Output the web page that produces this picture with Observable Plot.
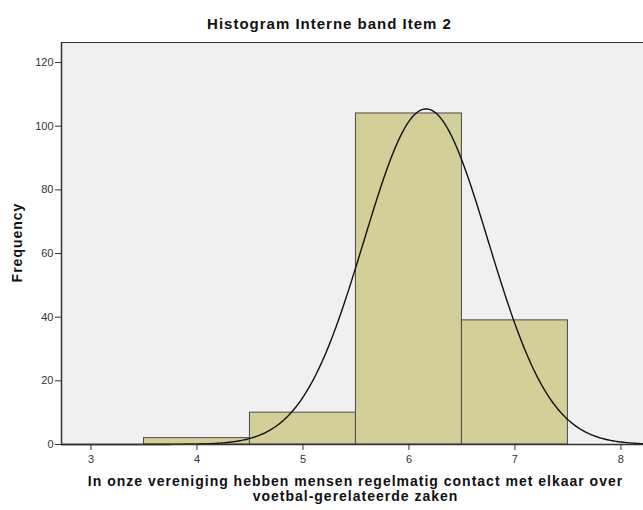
<!DOCTYPE html>
<html>
<head>
<meta charset="utf-8">
<script src="https://cdn.jsdelivr.net/npm/d3@7"></script>
<script src="https://cdn.jsdelivr.net/npm/@observablehq/plot@0.6"></script>
<style>
  html, body { margin: 0; padding: 0; background: #fff; overflow: hidden; }
  #chart { position: relative; width: 643px; height: 510px; }
  svg { font-family: "Liberation Sans", Arial, sans-serif; }
  .spaced text { letter-spacing: 1px; }
</style>
</head>
<body>
<div id="chart"></div>
<script>
// Data
const binStart = [3.5, 4.5, 5.5, 6.5];
const binEnd = [4.5, 5.5, 6.5, 7.5];
const counts = [2, 10, 104, 39];
const xTicks = [3, 4, 5, 6, 7, 8];
const yTicks = [0, 20, 40, 60, 80, 100, 120];
const title = "Histogram Interne band Item 2";
const xLabelLines = ["In onze vereniging hebben mensen regelmatig contact met elkaar over", "voetbal-gerelateerde zaken"];
const yLabel = "Frequency";

// Fitted normal curve parameters (SPSS overlay), derived from the bars
const N = d3.sum(counts);
const mids = binStart.map((s, i) => (s + binEnd[i]) / 2);
const mean = d3.sum(mids.map((m, i) => m * counts[i])) / N;
const sd = Math.sqrt(d3.sum(mids.map((m, i) => counts[i] * (m - mean) ** 2)) / (N - 1));
const binWidth = 1;

const xDomain = [2.722, 8.213];
const yDomain = [0, 126.3];

const bars = binStart.map((s, i) => ({x1: s, x2: binEnd[i], y: counts[i]}));
const curve = d3.range(xDomain[0], xDomain[1] + 0.001, 0.01).map(x => ({
  x, y: N * binWidth / (sd * Math.sqrt(2 * Math.PI)) * Math.exp(-0.5 * ((x - mean) / sd) ** 2)
}));

const plot = Plot.plot({
  width: 643,
  height: 510,
  marginLeft: 61,
  marginRight: 0,
  marginTop: 42,
  marginBottom: 66,
  style: {background: "#ffffff", fontFamily: "'Liberation Sans', Arial, sans-serif", overflow: "visible"},
  x: {domain: xDomain, ticks: xTicks, label: null},
  y: {domain: yDomain, ticks: yTicks, label: null},
  marks: [
    Plot.frame({fill: "#f0f0f0", stroke: "none"}),
    Plot.rectY(bars, {x1: "x1", x2: "x2", y: "y", fill: "#d3cf98", stroke: "#4a4a4a", strokeWidth: 1}),
    Plot.line(curve, {x: "x", y: "y", stroke: "#111", strokeWidth: 1.4, curve: "linear"}),
    Plot.ruleY([yDomain[0]], {stroke: "#333", strokeWidth: 1.5}),
    Plot.ruleY([yDomain[1]], {stroke: "#333", strokeWidth: 1.2}),
    Plot.ruleX([xDomain[0]], {stroke: "#333", strokeWidth: 1.5}),
    Plot.axisX({ticks: xTicks, tickFormat: d3.format("d"), tickSize: 6, tickPadding: 5, fontSize: 11, stroke: "#333", color: "#333", label: null}),
    Plot.axisY({ticks: yTicks, tickFormat: d3.format("d"), tickSize: 6, tickPadding: 2, fontSize: 11, stroke: "#333", color: "#333", label: null}),
    Plot.text([title], {className: "spaced", frameAnchor: "top", textAnchor: "middle", dy: -24, dx: -23, text: d => d, fontSize: 15, fontWeight: "bold", fill: "#111"}),
    Plot.text([yLabel], {className: "spaced", frameAnchor: "left", textAnchor: "middle", dx: -44, dy: -1, rotate: -90, text: d => d, fontSize: 14, fontWeight: "bold", fill: "#111"}),
    Plot.text([xLabelLines[0]], {className: "spaced", frameAnchor: "bottom", textAnchor: "middle", dy: 41, dx: 3, text: d => d, fontSize: 14, fontWeight: "bold", fill: "#111"}),
    Plot.text([xLabelLines[1]], {className: "spaced", frameAnchor: "bottom", textAnchor: "middle", dy: 56, dx: 3, text: d => d, fontSize: 14, fontWeight: "bold", fill: "#111"})
  ]
});
document.getElementById("chart").appendChild(plot);
</script>
</body>
</html>
